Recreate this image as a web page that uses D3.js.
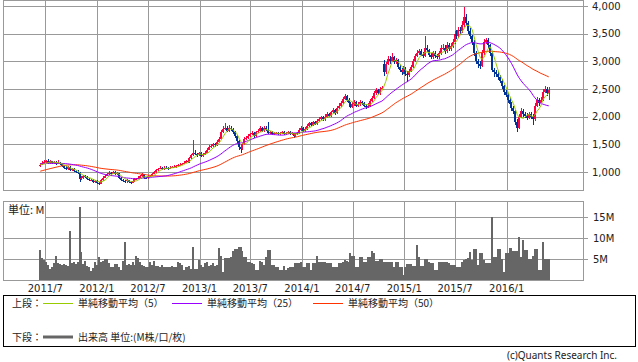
<!DOCTYPE html>
<html>
<head>
<meta charset="utf-8">
<script src="https://cdn.jsdelivr.net/npm/d3@7"></script>
<style>
body { margin: 0; background: #fff; }
svg { display: block; }
text { font-family: "DejaVu Sans", sans-serif; fill: #222; }
.jp { font-family: "Noto Sans CJK JP", sans-serif; }
</style>
</head>
<body>
<svg id="chart" width="638" height="362"></svg>
<script>
// weekly bars, first week starts 2011-06-13
var firstWeek = new Date(2011, 5, 13);

var opens = [
1100,1130,1160,1180,1200,1170,1190,1160,1180,1150,
1170,1140,1110,1080,1060,1090,1040,1050,1020,1000,
990,880,900,930,910,880,850,860,820,840,
800,790,850,900,930,960,990,970,1000,960,
980,900,860,840,830,850,820,810,830,870,
880,900,920,960,900,890,920,930,970,1000,
1030,1060,1080,1050,1080,1070,1060,1080,1090,1090,
1100,1120,1130,1150,1170,1200,1180,1250,1300,1350,
1320,1300,1340,1290,1310,1350,1400,1450,1470,1500,
1480,1550,1600,1720,1780,1800,1750,1800,1770,1720,
1650,1560,1450,1420,1500,1600,1620,1650,1680,1700,
1650,1720,1750,1790,1740,1800,1760,1700,1720,1690,
1700,1710,1680,1700,1720,1690,1700,1720,1690,1700,
1650,1680,1700,1760,1800,1740,1780,1830,1880,1850,
1900,1870,1930,1960,1990,1950,2000,2040,2020,2080,
2120,2060,2150,2200,2250,2320,2380,2300,2250,2180,
2220,2260,2200,2220,2260,2240,2200,2180,2200,2280,
2340,2420,2480,2420,2500,2950,2800,2950,3050,3000,
3080,2980,3020,2900,2850,2800,2870,2780,2750,2830,
2900,3000,3100,3150,3180,3120,3100,3250,3200,3120,
3080,3150,3100,3080,3150,3250,3250,3180,3300,3220,
3280,3350,3500,3450,3560,3550,3650,3800,3700,3550,
3450,3350,3150,3000,2950,2920,3150,3350,3380,3300,
3150,2850,2800,2780,2720,2650,2550,2450,2400,2300,
2220,2150,2100,1900,1800,2000,2100,2050,2020,1980,
2040,2000,1950,2200,2300,2250,2300,2450,2500,2420
];

var highs = [
1160,1190,1210,1220,1235,1210,1200,1200,1190,1220,
1180,1150,1120,1100,1110,1100,1080,1070,1040,1030,
1000,930,950,950,920,890,880,870,860,850,
820,870,920,950,980,1010,1000,1020,1010,1000,
990,910,870,860,870,860,840,850,890,900,
920,940,980,970,910,940,950,990,1020,1050,
1080,1100,1090,1100,1100,1090,1100,1110,1120,1120,
1140,1160,1170,1190,1220,1220,1270,1330,1580,1400,
1350,1370,1360,1340,1380,1430,1480,1500,1530,1530,
1580,1640,1760,1840,1885,1830,1850,1830,1790,1740,
1670,1580,1480,1530,1630,1650,1680,1710,1740,1720,
1750,1780,1830,1810,1840,1830,1903,1750,1740,1720,
1730,1730,1720,1740,1740,1720,1740,1740,1720,1710,
1700,1720,1790,1830,1820,1810,1860,1910,1910,1930,
1930,1960,1990,2020,2020,2040,2080,2070,2110,2160,
2140,2190,2240,2290,2360,2410,2400,2330,2270,2260,
2300,2280,2260,2300,2290,2260,2230,2240,2320,2380,
2460,2520,2500,2540,2560,3020,2990,3100,3090,3150,
3100,3060,3040,2930,2880,2910,2890,2820,2870,2940,
3040,3140,3200,3220,3220,3160,3450,3300,3230,3150,
3190,3180,3140,3190,3300,3320,3290,3350,3340,3330,
3400,3550,3560,3620,3620,3720,3980,3850,3720,3600,
3480,3380,3180,3050,3000,3200,3400,3430,3420,3320,
3180,2880,2850,2820,2760,2680,2580,2490,2430,2340,
2260,2200,2120,1950,2040,2150,2140,2090,2060,2080,
2080,2040,2240,2350,2340,2350,2500,2550,2540,2540
];

var lows = [
1090,1120,1150,1170,1150,1150,1140,1150,1130,1140,
1120,1090,1060,1040,1040,1010,1020,1000,980,960,
820,850,880,890,860,830,830,800,800,780,
765,780,840,890,920,950,950,960,940,940,
880,840,820,810,810,800,790,800,820,860,
870,890,910,880,870,880,910,920,960,990,
1020,1050,1030,1040,1050,1040,1050,1070,1070,1080,
1090,1110,1120,1140,1160,1160,1170,1240,1290,1300,
1280,1290,1270,1270,1300,1340,1390,1430,1450,1460,
1470,1530,1590,1700,1760,1720,1730,1740,1690,1620,
1520,1400,1343,1400,1490,1570,1600,1630,1660,1620,
1640,1700,1730,1720,1730,1740,1680,1680,1670,1670,
1680,1660,1660,1680,1670,1670,1680,1670,1670,1620,
1630,1660,1690,1740,1720,1720,1760,1810,1830,1830,
1850,1850,1910,1940,1920,1930,1980,1990,2000,2060,
2030,2040,2130,2180,2230,2300,2270,2220,2150,2160,
2200,2170,2180,2200,2210,2170,2140,2150,2180,2260,
2320,2400,2390,2400,2480,2730,2780,2930,2960,2980,
2950,2950,2870,2810,2760,2780,2740,2620,2720,2800,
2880,2980,3070,3120,3090,3060,3080,3160,3080,3040,
3050,3060,3040,3050,3120,3200,3140,3150,3180,3190,
3250,3320,3400,3420,3500,3520,3620,3650,3500,3400,
3300,3100,2950,2880,2860,2900,3120,3320,3250,3100,
2800,2720,2720,2660,2600,2500,2400,2350,2250,2170,
2100,2050,1850,1720,1780,1970,2000,1970,1940,1950,
1960,1850,1930,2170,2200,2220,2280,2420,2380,2300
];

var closes = [
1130,1160,1180,1200,1170,1190,1160,1180,1150,1170,
1140,1110,1080,1060,1090,1040,1050,1020,1000,990,
880,900,930,910,880,850,860,820,840,800,
790,850,900,930,960,990,970,1000,960,980,
900,860,840,830,850,820,810,830,870,880,
900,920,960,900,890,920,930,970,1000,1030,
1060,1080,1050,1080,1070,1060,1080,1090,1090,1100,
1120,1130,1150,1170,1200,1180,1250,1300,1350,1320,
1300,1340,1290,1310,1350,1400,1450,1470,1500,1480,
1550,1600,1720,1780,1800,1750,1800,1770,1720,1650,
1560,1450,1420,1500,1600,1620,1650,1680,1700,1650,
1720,1750,1790,1740,1800,1760,1700,1720,1690,1700,
1710,1680,1700,1720,1690,1700,1720,1690,1700,1650,
1680,1700,1760,1800,1740,1780,1830,1880,1850,1900,
1870,1930,1960,1990,1950,2000,2040,2020,2080,2120,
2060,2150,2200,2250,2320,2380,2300,2250,2180,2220,
2260,2200,2220,2260,2240,2200,2180,2200,2280,2340,
2420,2480,2420,2500,2520,2800,2950,3050,3000,3080,
2980,3020,2900,2850,2800,2870,2780,2750,2830,2900,
3000,3100,3150,3180,3120,3100,3250,3200,3120,3080,
3150,3100,3080,3150,3250,3250,3180,3300,3220,3280,
3350,3500,3450,3560,3550,3650,3800,3700,3550,3450,
3350,3150,3000,2950,2920,3150,3350,3380,3300,3150,
2850,2800,2780,2720,2650,2550,2450,2400,2300,2220,
2150,2100,1900,1800,2000,2100,2050,2020,1980,2040,
2000,1950,2200,2300,2250,2300,2450,2500,2420,2480
];

// weekly volume, millions
var volumes = [
7.2,5.2,4.8,4.3,3.5,2.6,3.0,4.0,5.8,4.0,
3.8,3.7,3.9,3.6,3.3,11.8,4.0,4.2,3.9,4.2,
17.5,6.8,3.8,4.5,3.3,3.0,2.2,2.8,4.3,3.6,
5.4,4.3,4.6,5.0,5.0,4.0,3.0,3.2,3.8,3.8,
3.2,2.3,4.5,9.2,3.5,3.8,3.6,4.2,3.6,5.8,
5.2,4.4,3.5,3.4,3.2,3.0,4.4,3.6,4.6,3.4,
3.3,3.1,3.5,3.0,3.1,3.2,3.1,3.3,3.0,3.1,
4.2,4.0,3.6,2.4,3.2,3.0,3.3,2.6,7.8,2.6,
2.6,4.8,3.6,3.2,4.0,4.4,3.4,3.6,4.0,3.4,
3.6,7.6,5.8,2.0,5.2,5.2,5.2,5.4,7.0,7.5,
7.5,7.8,7.8,7.0,5.5,5.4,4.3,4.3,4.0,3.8,
2.4,2.4,4.6,4.4,3.6,5.5,7.2,7.2,3.6,3.6,
3.2,3.0,2.4,2.4,3.4,2.4,2.8,3.0,3.2,3.0,
4.0,4.0,4.0,4.4,3.2,3.2,4.0,4.0,2.4,4.0,
4.0,5.8,4.3,4.3,4.3,4.3,4.0,4.0,4.0,3.2,
3.2,3.2,4.0,4.0,4.4,4.8,4.6,4.4,6.4,5.8,
5.8,3.2,3.2,5.4,5.4,4.4,4.4,5.5,5.5,7.0,
6.4,4.6,4.6,5.0,5.0,4.4,4.4,4.2,4.2,4.4,
3.2,4.2,4.2,3.0,3.0,1.2,3.2,3.8,3.8,3.8,
3.4,3.4,8.4,5.5,3.4,3.4,5.0,5.0,4.4,4.0,
4.0,2.4,2.4,4.4,4.4,4.4,4.4,4.2,4.0,3.6,
3.6,3.6,3.2,3.2,3.2,4.4,4.8,5.0,5.2,6.7,
4.8,7.4,7.4,3.6,6.4,6.4,4.8,4.0,4.0,4.0,
15.0,5.5,5.5,7.4,7.4,5.0,2.0,6.4,6.4,7.6,
7.6,7.0,7.0,7.0,10.3,5.6,9.6,7.2,7.2,5.0,
5.0,5.8,7.4,7.4,2.4,2.4,9.0,5.0,5.0,5.0
];

// closes of the 49 weeks before the chart, needed for the moving averages
var priorCloses = [
700,720,740,710,730,750,720,740,760,730,750,770,
820,870,900,950,980,1000,1020,1050,1080,1100,1120,1100,1130,
1140,1160,1150,1170,1180,1160,1150,1140,1160,1170,1150,1140,
1130,1150,1160,1170,1180,1160,1150,1140,1160,1150,1130,1120
];

var priceTicks = [1000, 1500, 2000, 2500, 3000, 3500, 4000];
var volumeTicks = [5, 10, 15];
var dateTicks = ["2011/7", "2012/1", "2012/7", "2013/1", "2013/7", "2014/1", "2014/7", "2015/1", "2015/7", "2016/1"];
var maPeriods = [5, 25, 50];
var maColors = ["#99cc00", "#9900ff", "#ff3300"];
var maLabels = ["単純移動平均（5）", "単純移動平均（25）", "単純移動平均（50）"];

var svg = d3.select("#chart");
var left = 3, right = 583;
var priceTop = 0, priceBottom = 190;
var volTop = 201, volBottom = 280;

var parseTick = d3.timeParse("%Y/%m");
var weeks = closes.map(function(c, i) { return d3.timeWeek.offset(firstWeek, i); });

var x = d3.scaleTime()
    .domain([parseTick("2011/7"), parseTick("2016/1")])
    .range([45.3, 506.7]);
var y = d3.scaleLinear().domain([1000, 4000]).range([172, 6]);
var yv = d3.scaleLinear().domain([0, 15]).range([280, 217.4]);

function px(v) { return Math.round(v) + 0.5; }

var grid = svg.append("g").attr("stroke", "#999").attr("stroke-width", 1)
    .attr("shape-rendering", "crispEdges");

// horizontal grid + ticks
priceTicks.forEach(function(t) {
    grid.append("line").attr("x1", left).attr("x2", right + 5)
        .attr("y1", px(y(t))).attr("y2", px(y(t)));
});
volumeTicks.forEach(function(t) {
    grid.append("line").attr("x1", left).attr("x2", right + 5)
        .attr("y1", px(yv(t))).attr("y2", px(yv(t)));
});
// vertical grid in both panels
dateTicks.forEach(function(t) {
    var gx = px(x(parseTick(t)));
    grid.append("line").attr("x1", gx).attr("x2", gx).attr("y1", priceTop).attr("y2", priceBottom);
    grid.append("line").attr("x1", gx).attr("x2", gx).attr("y1", volTop).attr("y2", volBottom);
});
// panel frames
grid.append("rect").attr("x", left + 0.5).attr("y", priceTop + 0.5)
    .attr("width", right - left).attr("height", priceBottom - priceTop).attr("fill", "none");
grid.append("rect").attr("x", left + 0.5).attr("y", volTop + 0.5)
    .attr("width", right - left).attr("height", volBottom - volTop).attr("fill", "none");

// volume bars
svg.append("g").attr("shape-rendering", "crispEdges")
    .selectAll("rect").data(volumes).enter().append("rect")
    .attr("x", function(d, i) { return x(weeks[i]) - 1; })
    .attr("width", 2)
    .attr("y", function(d) { return yv(d); })
    .attr("height", function(d) { return yv(0) - yv(d); })
    .attr("fill", "#666");

// candles
var candles = svg.append("g").attr("shape-rendering", "crispEdges")
    .selectAll("g").data(closes).enter().append("g")
    .attr("fill", function(c, i) { return c >= opens[i] ? "#ff0040" : "#003399"; });
candles.append("rect")
    .attr("x", function(c, i) { return Math.round(x(weeks[i])); })
    .attr("width", 1)
    .attr("y", function(c, i) { return y(highs[i]); })
    .attr("height", function(c, i) { return y(lows[i]) - y(highs[i]); });
candles.append("rect")
    .attr("x", function(c, i) { return x(weeks[i]) - 1; })
    .attr("width", 2)
    .attr("y", function(c, i) { return y(Math.max(c, opens[i])); })
    .attr("height", function(c, i) { return Math.max(1, Math.abs(y(c) - y(opens[i]))); });

// moving averages
var allCloses = priorCloses.concat(closes);
function movingAverage(n) {
    return closes.map(function(c, i) {
        var end = i + priorCloses.length + 1;
        return d3.mean(allCloses.slice(end - n, end));
    });
}
var line = d3.line()
    .x(function(d, i) { return x(weeks[i]); })
    .y(function(d) { return y(d); });
[2, 1, 0].forEach(function(k) {
    svg.append("path").datum(movingAverage(maPeriods[k]))
        .attr("d", line).attr("fill", "none")
        .attr("stroke", maColors[k]).attr("stroke-width", 1);
});

// axis labels
var fmt = d3.format(",");
svg.append("g").selectAll("text").data(priceTicks).enter().append("text")
    .attr("x", 592).attr("y", function(d) { return y(d); })
    .attr("dy", "0.35em").attr("font-size", 10).text(function(d) { return fmt(d); });
svg.append("g").selectAll("text").data(volumeTicks).enter().append("text")
    .attr("x", 593).attr("y", function(d) { return yv(d); })
    .attr("dy", "0.35em").attr("font-size", 10).text(function(d) { return d + "M"; });
svg.append("g").selectAll("text").data(dateTicks).enter().append("text")
    .attr("x", function(d) { return x(parseTick(d)); }).attr("y", 288)
    .attr("dy", "0.35em").attr("text-anchor", "middle").attr("font-size", 10)
    .text(function(d) { return d; });

// unit label inside volume panel
svg.append("rect").attr("x", 4).attr("y", 202).attr("width", 41).attr("height", 16).attr("fill", "#fff");
svg.append("text").attr("class", "jp").attr("x", 8).attr("y", 210).attr("dy", "0.35em")
    .attr("font-size", 11).text("単位: M");

// legend
var legend = svg.append("g");
legend.append("rect").attr("x", 3.5).attr("y", 295.5).attr("width", 632).attr("height", 51)
    .attr("fill", "none").attr("stroke", "#000");
legend.append("text").attr("class", "jp").attr("x", 12).attr("y", 303).attr("dy", "0.35em")
    .attr("font-size", 10).text("上段：");
var legendX = [43, 172, 313];
maLabels.forEach(function(lbl, k) {
    legend.append("line").attr("x1", legendX[k]).attr("x2", legendX[k] + 30)
        .attr("y1", 303.5).attr("y2", 303.5).attr("stroke", maColors[k]);
    legend.append("text").attr("class", "jp").attr("x", legendX[k] + 35).attr("y", 303)
        .attr("dy", "0.35em").attr("font-size", 10).text(lbl);
});
legend.append("text").attr("class", "jp").attr("x", 12).attr("y", 337).attr("dy", "0.35em")
    .attr("font-size", 10).text("下段：");
legend.append("line").attr("x1", 43).attr("x2", 73).attr("y1", 337).attr("y2", 337)
    .attr("stroke", "#666").attr("stroke-width", 3);
legend.append("text").attr("class", "jp").attr("x", 78).attr("y", 337).attr("dy", "0.35em")
    .attr("font-size", 10).text("出来高 単位:(M株/口/枚)");

svg.append("text").attr("x", 617).attr("y", 355).attr("dy", "0.35em")
    .attr("text-anchor", "end").attr("font-size", 10)
    .style("font-family", "'Noto Sans', sans-serif").attr("fill", "#444")
    .text("(c)Quants Research Inc.");
</script>
</body>
</html>
